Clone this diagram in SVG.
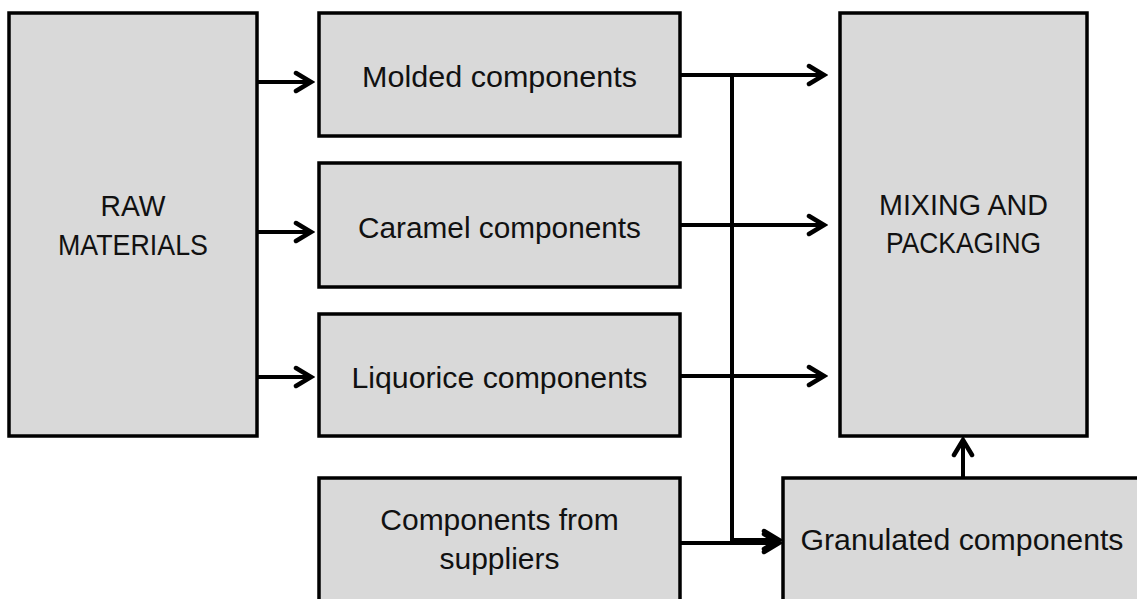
<svg xmlns="http://www.w3.org/2000/svg" width="1137" height="599" viewBox="0 0 1137 599">
<defs>
<style>
.box{fill:#d9d9d9;stroke:#000;stroke-width:3.5}
.lbl{font-family:"Liberation Sans",Arial,sans-serif;font-size:30px;fill:#111;text-anchor:middle}
.ln{fill:none;stroke:#000;stroke-width:4}
</style>
<marker id="arr" markerUnits="userSpaceOnUse" viewBox="-20 -12 24 24" markerWidth="24" markerHeight="24" refX="0" refY="0" orient="auto">
<path d="M-15,-9 L0,0 L-15,9" fill="none" stroke="#000" stroke-width="4.5" stroke-linecap="round" stroke-linejoin="miter"/>
</marker>
</defs>
<rect width="1137" height="599" fill="#fff"/>
<g id="raw"><rect class="box" x="9" y="13" width="248" height="423"/>
<text class="lbl" x="133" y="216" textLength="65" lengthAdjust="spacingAndGlyphs">RAW</text>
<text class="lbl" x="133" y="255" textLength="150" lengthAdjust="spacingAndGlyphs">MATERIALS</text></g>
<g id="molded"><rect class="box" x="319" y="13" width="361" height="123"/>
<text class="lbl" x="499.5" y="87" textLength="275" lengthAdjust="spacingAndGlyphs">Molded components</text></g>
<g id="caramel"><rect class="box" x="319" y="163" width="361" height="124"/>
<text class="lbl" x="499.5" y="237.5" textLength="283" lengthAdjust="spacingAndGlyphs">Caramel components</text></g>
<g id="liquorice"><rect class="box" x="319" y="314" width="361" height="122"/>
<text class="lbl" x="499.5" y="387.5" textLength="296" lengthAdjust="spacingAndGlyphs">Liquorice components</text></g>
<g id="suppliers"><rect class="box" x="319" y="478" width="361" height="150"/>
<text class="lbl" x="499.5" y="530">Components from</text>
<text class="lbl" x="499.5" y="569">suppliers</text></g>
<g id="mixing"><rect class="box" x="840" y="13" width="247" height="423"/>
<text class="lbl" x="963.5" y="215" textLength="169" lengthAdjust="spacingAndGlyphs">MIXING AND</text>
<text class="lbl" x="963.5" y="253" textLength="155" lengthAdjust="spacingAndGlyphs">PACKAGING</text></g>
<g id="granulated"><rect class="box" x="783" y="478" width="380" height="150"/>
<text class="lbl" x="962" y="550" textLength="323" lengthAdjust="spacingAndGlyphs">Granulated components</text></g>
<g id="connectors">
<path class="ln" d="M257,82 H311" marker-end="url(#arr)"/>
<path class="ln" d="M257,232 H311" marker-end="url(#arr)"/>
<path class="ln" d="M257,377 H311" marker-end="url(#arr)"/>
<path class="ln" d="M680,75 H824" marker-end="url(#arr)"/>
<path class="ln" d="M680,225 H824" marker-end="url(#arr)"/>
<path class="ln" d="M680,376 H824" marker-end="url(#arr)"/>
<path class="ln" d="M732,75 V540 H779" marker-end="url(#arr)"/>
<path class="ln" d="M680,543 H779" marker-end="url(#arr)"/>
<path class="ln" d="M963,478 V440" marker-end="url(#arr)"/>
</g>
</svg>
